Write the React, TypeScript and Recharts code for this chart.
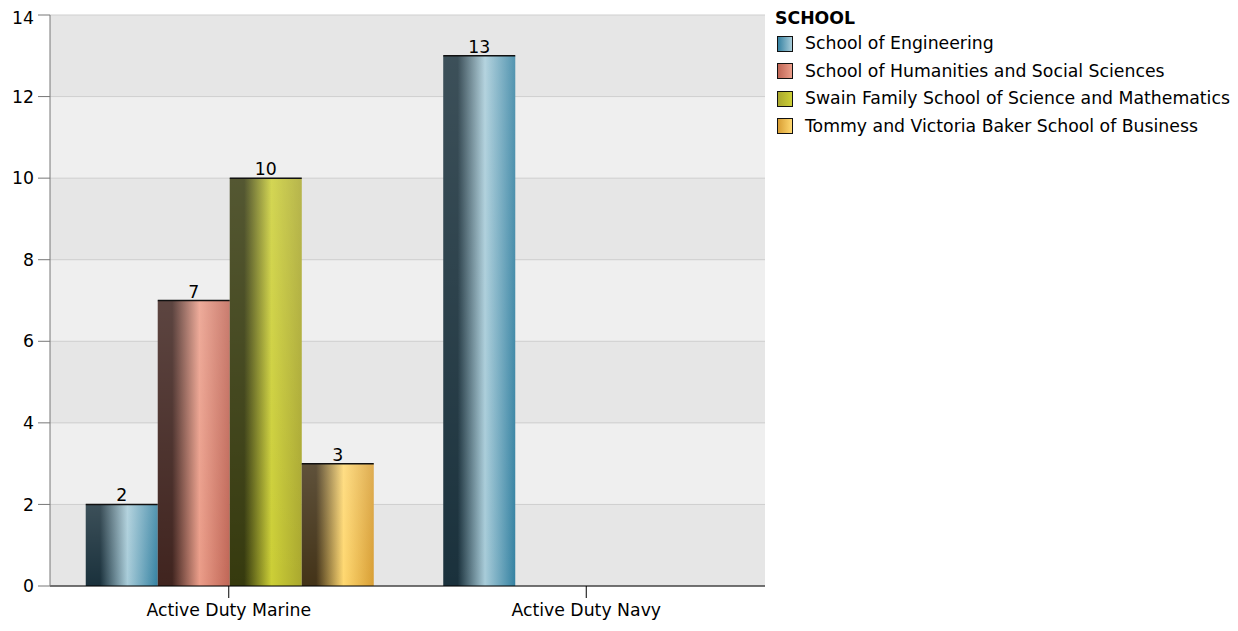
import { BarChart, Bar, XAxis, YAxis, CartesianGrid, LabelList } from "recharts";

const categories = ["Active Duty Marine", "Active Duty Navy"];
const engineering = [2, 13];
const humanities = [7, null];
const swain = [10, null];
const business = [3, null];
const yTicks = [0, 2, 4, 6, 8, 10, 12, 14];

const schools = [
  { key: "eng", name: "School of Engineering", values: engineering, dark: "#1a313c", hi: "#a8ccd9", end: "#3582a2" },
  { key: "hum", name: "School of Humanities and Social Sciences", values: humanities, dark: "#40241f", hi: "#eb9d89", end: "#c06656" },
  { key: "swa", name: "Swain Family School of Science and Mathematics", values: swain, dark: "#363a0e", hi: "#cccf36", end: "#aaa82e" },
  { key: "bus", name: "Tommy and Victoria Baker School of Business", values: business, dark: "#433318", hi: "#ffd870", end: "#d89e34" },
];

const data = categories.map((c, i) => {
  const row: Record<string, string | number | null> = { category: c };
  schools.forEach((s) => (row[s.key] = s.values[i]));
  return row;
});

const FONT = "DejaVu Sans, Verdana, sans-serif";
const FS = 17.3;

function GradBar(props: any) {
  const { x, y, width, height, sid } = props;
  if (!height || height <= 0) return null;
  return (
    <g>
      <rect x={x} y={y} width={width} height={height} fill={`url(#h-${sid})`} />
      <rect x={x} y={y} width={width} height={height} fill="url(#vshade)" />
      <line x1={x} x2={x + width} y1={y} y2={y} stroke="#111" strokeWidth={1.5} />
    </g>
  );
}

function LegendBox() {
  return (
    <div
      style={{
        position: "absolute",
        left: 767,
        top: 0,
        fontFamily: FONT,
        fontSize: FS,
        color: "#000",
        lineHeight: "27.5px",
      }}
    >
      <div style={{ fontWeight: "bold", lineHeight: "20px", marginBottom: 2 }}>SCHOOL</div>
      {schools.map((s) => (
        <div key={s.key} style={{ display: "flex", alignItems: "center", marginLeft: 2 }}>
          <span
            style={{
              display: "inline-block",
              width: 14,
              height: 14,
              border: "1.5px solid #111",
              background: `linear-gradient(90deg, ${s.end}, ${s.hi})`,
              marginRight: 12,
            }}
          />
          <span>{s.name}</span>
        </div>
      ))}
    </div>
  );
}

export default function App() {
  return (
    <div style={{ position: "relative", width: 1222, height: 615 }}>
      <BarChart
        width={1222}
        height={615}
        data={data}
        margin={{ top: 7, right: 465, left: 0, bottom: 0 }}
        barGap={0}
        barCategoryGap="10%"
      >
        <defs>
          {schools.map((s) => (
            <linearGradient key={s.key} id={`h-${s.key}`} x1="0" y1="0" x2="1" y2="0">
              <stop offset="0%" stopColor={s.dark} />
              <stop offset="20%" stopColor={s.dark} />
              <stop offset="58%" stopColor={s.hi} />
              <stop offset="100%" stopColor={s.end} />
            </linearGradient>
          ))}
          <linearGradient id="vshade" x1="0" y1="0" x2="0" y2="1">
            <stop offset="0%" stopColor="#ffffff" stopOpacity={0.15} />
            <stop offset="100%" stopColor="#ffffff" stopOpacity={0} />
          </linearGradient>
        </defs>
        <CartesianGrid
          vertical={false}
          stroke="#cfcfcf"
          horizontalFill={["#e6e6e6", "#efefef"]}
          fillOpacity={1}
        />
        <XAxis
          dataKey="category"
          height={37}
          interval={0}
          tick={{ fontSize: FS, fill: "#000", fontFamily: FONT }}
          tickSize={12}
          tickLine={{ stroke: "#000" }}
          axisLine={{ stroke: "#000" }}
          tickMargin={6}
        />
        <YAxis
          width={42}
          domain={[0, 14]}
          ticks={yTicks}
          tick={{ fontSize: FS, fill: "#000", fontFamily: FONT }}
          tickSize={12}
          tickLine={{ stroke: "#777" }}
          axisLine={{ stroke: "#777" }}
          tickMargin={4}
        />
        {schools.map((s) => (
          <Bar
            key={s.key}
            dataKey={s.key}
            name={s.name}
            isAnimationActive={false}
            shape={(p: any) => <GradBar {...p} sid={s.key} />}
          >
            <LabelList dataKey={s.key} position="top" offset={3} style={{ fontSize: FS, fill: "#000", fontFamily: FONT }} />
          </Bar>
        ))}
      </BarChart>
      <LegendBox />
    </div>
  );
}
